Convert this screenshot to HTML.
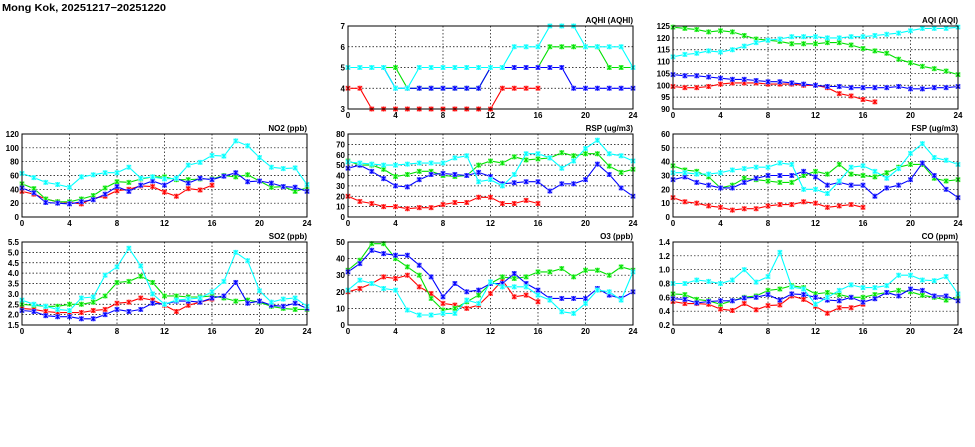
<!DOCTYPE html>
<html><head><meta charset="utf-8"><style>
html,body{margin:0;padding:0;background:#fff;}
svg{display:block;font-family:"Liberation Sans",sans-serif;}
</style></head><body>
<svg id="s" width="975" height="447" xmlns="http://www.w3.org/2000/svg">
<rect width="975" height="447" fill="#fff"/>
<text x="2" y="11" font-size="10" font-weight="bold" textLength="164" lengthAdjust="spacingAndGlyphs">Mong Kok, 20251217−20251220</text>
</svg>
<script>
var N=null;
var P=[
{t:"AQHI (AQHI)",x:348,y:26,min:3,max:7,ticks:[3,4,5,6,7],fmt:0,d:{
r:[4,4,3,3,3,3,3,3,3,3,3,3,3,4,4,4,4],
g:[5,5,5,5,5,4,4,4,4,4,4,4,5,5,5,5,5,6,6,6,6,6,5,5,5],
c:[5,5,5,5,4,4,5,5,5,5,5,5,5,5,6,6,6,7,7,7,6,6,6,6,5],
b:[5,5,5,5,4,4,4,4,4,4,4,4,5,5,5,5,5,5,5,4,4,4,4,4,4]}},
{t:"AQI (AQI)",x:673,y:26,min:90,max:125,ticks:[90,95,100,105,110,115,120,125],fmt:0,d:{
r:[99.5,99,99,99.5,100.5,101,101,101,100.5,100.5,100.5,100,100,99,96.5,95.5,94,93],
g:[124.5,124,123.5,122.5,123,122.5,121,119.5,119,118.5,117.5,117.5,117.5,118,118,117,115.5,114.5,113.5,111,109.5,108,107,106,104.5],
c:[112,113,113.5,114.5,114,115,116.5,118,119,119.5,120.5,120.5,120.5,120,120,120.5,120.5,121,121.5,122,123,124,124,124,124.5],
b:[104.5,104,104,103.5,103,102.5,102.5,102,101.5,101.5,101,100.5,100,99.5,99.5,99,99,99,99,99.5,98.5,98.5,99,99,99.5]}},
{t:"NO2 (ppb)",x:22,y:134,min:0,max:120,ticks:[0,20,40,60,80,100,120],fmt:0,d:{
r:[37,33,26,22,21,19,27,30,38,40,45,44,36,30,41,39,46],
g:[48,41,26,22,22,26,31,42,51,50,55,58,58,54,54,55,55,60,58,61,52,43,44,37,42],
c:[63,57,50,47,43,58,61,64,64,72,56,58,55,56,75,79,89,88,110,103,86,72,70,71,47],
b:[42,35,21,20,19,22,25,33,44,37,46,52,46,56,49,56,54,59,64,51,52,49,44,43,37]}},
{t:"RSP (ug/m3)",x:348,y:134,min:0,max:80,ticks:[0,10,20,30,40,50,60,70,80],fmt:0,d:{
r:[20,15,13,10,10,8,9,9,12,14,14,19,19,13,13,16,13],
g:[54,50,50,46,39,41,44,44,40,39,40,50,54,52,58,55,56,57,62,59,61,61,49,43,46],
c:[53,52,51,50,50,51,52,52,52,57,59,34,36,30,41,61,61,57,47,54,66,74,61,59,54],
b:[47,50,44,37,30,29,36,41,42,41,40,43,39,32,33,34,34,25,32,32,36,51,41,28,20]}},
{t:"FSP (ug/m3)",x:673,y:134,min:0,max:60,ticks:[0,10,20,30,40,50,60],fmt:0,d:{
r:[14,11,10,8,7,5,6,6,8,9,9,11,10,7,8,9,7],
g:[37,34,33,29,21,23,28,27,26,25,25,30,33,31,38,31,30,29,32,36,38,38,28,26,27],
c:[32,32,31,31,32,34,35,36,36,39,38,20,20,17,26,36,37,33,28,35,46,53,43,41,38],
b:[27,29,25,23,21,21,25,28,30,30,30,33,29,23,25,23,23,15,21,23,27,39,30,20,14]}},
{t:"SO2 (ppb)",x:22,y:242,min:1.5,max:5.5,ticks:[1.5,2,2.5,3,3.5,4,4.5,5,5.5],fmt:1,d:{
r:[2.3,2.25,2.15,2.1,2.1,2.1,2.2,2.25,2.55,2.6,2.8,2.7,2.45,2.15,2.45,2.6,2.75],
g:[2.5,2.45,2.4,2.4,2.5,2.5,2.6,2.9,3.55,3.6,3.85,3.55,2.9,2.9,2.85,2.85,2.9,2.8,2.65,2.7,2.6,2.4,2.3,2.25,2.25],
c:[2.7,2.5,2.4,2.25,2.2,2.8,2.85,3.9,4.3,5.2,4.35,3.0,2.5,2.7,2.75,2.8,3.1,3.6,5.0,4.6,3.15,2.6,2.75,2.8,2.4],
b:[2.2,2.15,1.95,1.9,1.9,1.8,1.8,2.0,2.25,2.15,2.25,2.55,2.5,2.65,2.65,2.6,2.8,2.9,3.55,2.55,2.65,2.45,2.4,2.55,2.3]}},
{t:"O3 (ppb)",x:348,y:242,min:0,max:50,ticks:[0,10,20,30,40,50],fmt:0,d:{
r:[20,22,25,29,28,30,23,19,13,12,10,12,19,27,17,18,14],
g:[33,39,49,49,40,35,30,16,9,10,14,18,25,29,28,29,32,32,34,29,33,33,30,35,33],
c:[21,27,25,22,21,9,6,6,7,7,15,13,26,23,23,23,18,15,8,7,13,21,20,15,32],
b:[32,37,45,43,42,42,36,29,17,25,20,21,25,25,31,25,21,16,16,16,16,22,18,16,20]}},
{t:"CO (ppm)",x:673,y:242,min:0.2,max:1.4,ticks:[0.2,0.4,0.6,0.8,1.0,1.2,1.4],fmt:1,d:{
r:[.54,.51,.51,.5,.43,.41,.51,.42,.48,.49,.62,.57,.47,.37,.45,.45,.5],
g:[.65,.64,.57,.55,.5,.55,.6,.62,.7,.72,.77,.74,.65,.67,.64,.6,.6,.64,.67,.7,.68,.63,.6,.56,.6],
c:[.8,.8,.85,.83,.8,.85,1.0,.82,.9,1.25,.75,.72,.5,.6,.7,.78,.74,.74,.77,.92,.92,.85,.84,.9,.65],
b:[.58,.57,.52,.54,.55,.55,.59,.6,.64,.56,.65,.64,.6,.56,.55,.6,.53,.58,.67,.62,.72,.7,.62,.62,.55]}}
];
var C={r:["#ff0000","#ff9999"],g:["#00e000","#99ff99"],c:["#00ffff","#99ffff"],b:["#0000ff","#9999ff"]};
var W=285,H=83,o="";
P.forEach(function(p){
 var X=function(i){return p.x+i*W/24},Y=function(v){return p.y+H-(v-p.min)/(p.max-p.min)*H};
 o+='<text x="'+(p.x+W)+'" y="'+(p.y-3)+'" font-size="8" font-weight="bold" text-anchor="end">'+p.t+'</text>';
 for(var i=4;i<24;i+=4)o+='<line x1="'+X(i)+'" x2="'+X(i)+'" y1="'+p.y+'" y2="'+(p.y+H)+'" stroke="#000" stroke-width="0.7" stroke-dasharray="1.5,2"/>';
 p.ticks.forEach(function(t,k){var y=Y(t);
  if(k>0&&k<p.ticks.length-1)o+='<line x1="'+p.x+'" x2="'+(p.x+W)+'" y1="'+y+'" y2="'+y+'" stroke="#000" stroke-width="0.7" stroke-dasharray="1.5,2"/>';
  o+='<text x="'+(p.x-3)+'" y="'+(y+3)+'" font-size="8" font-weight="bold" text-anchor="end">'+(p.fmt?t.toFixed(1):t)+'</text>';});
 for(var i=0;i<=24;i+=4)o+='<text x="'+X(i)+'" y="'+(p.y+H+9)+'" font-size="8" font-weight="bold" text-anchor="middle">'+i+'</text>';
 ["r","g","b","c"].forEach(function(k){var a=p.d[k],pts=[];
  a.forEach(function(v,i){pts.push(X(i).toFixed(1)+","+Y(v).toFixed(1))});
  o+='<polyline points="'+pts.join(" ")+'" fill="none" stroke="'+C[k][0]+'" stroke-width="1.1"/>';
  a.forEach(function(v,i){var x=X(i),y=Y(v);
   o+='<rect x="'+(x-2.5)+'" y="'+(y-2.5)+'" width="5" height="5" fill="'+C[k][1]+'"/>';
   o+='<path d="M'+(x-2)+' '+(y-2)+'L'+(x+2)+' '+(y+2)+'M'+(x-2)+' '+(y+2)+'L'+(x+2)+' '+(y-2)+'M'+x+' '+(y-2.5)+'V'+(y+2.5)+'" stroke="'+C[k][0]+'" stroke-width="1"/>';});
 });
 o+='<rect x="'+p.x+'" y="'+p.y+'" width="'+W+'" height="'+H+'" fill="none" stroke="#000" stroke-width="1"/>';
});
document.getElementById("s").insertAdjacentHTML("beforeend",o);
</script>
</body></html>
